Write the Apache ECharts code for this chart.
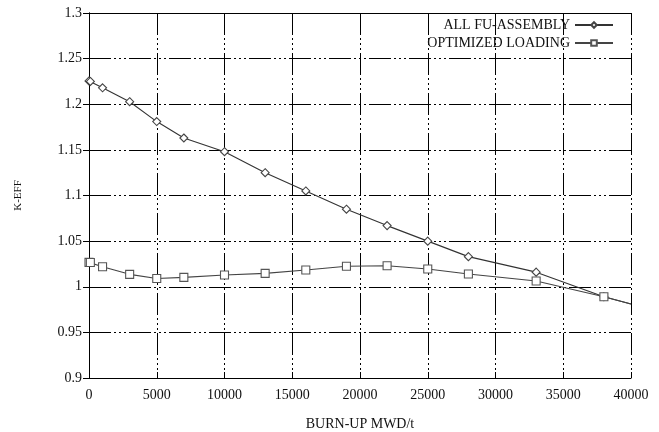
<!DOCTYPE html>
<html>
<head>
<meta charset="utf-8">
<script src="https://cdn.jsdelivr.net/npm/echarts@6/dist/echarts.min.js"></script>
<style>
  html, body { margin: 0; padding: 0; background: #fff; }
  #chart { width: 659px; height: 432px; }
</style>
</head>
<body>
<div id="chart"></div>
<script>
// Burn-up steps (MWD/t)
var burnup = [0, 100, 1000, 3000, 5000, 7000, 10000, 13000, 16000, 19000, 22000, 25000, 28000, 33000, 38000, 40000];
// k-eff, core loaded entirely with fresh FU assemblies
var keffAllFu = [1.2255, 1.225, 1.218, 1.2028, 1.181, 1.163, 1.148, 1.125, 1.105, 1.085, 1.067, 1.050, 1.033, 1.016, 0.989, 0.981];
// k-eff, optimized loading pattern
var keffOptimized = [1.0267, 1.0265, 1.022, 1.0136, 1.009, 1.0103, 1.0129, 1.0147, 1.0184, 1.0225, 1.023, 1.0195, 1.014, 1.0063, 0.989, 0.981];
// Axis ranges
var xRange = [0, 40000, 5000];
var yRange = [0.9, 1.3, 0.05];
var seriesNames = ['ALL FU-ASSEMBLY', 'OPTIMIZED LOADING'];

var FONT = 'Liberation Serif';
var gridDash = [22, 3, 2, 3, 2, 3, 2, 3];

function pairs(xs, ys) {
  return xs.map(function (x, i) {
    var p = { value: [x, ys[i]] };
    if (x === xRange[1]) p.symbol = 'none';
    return p;
  });
}

function yFmt(v) {
  return String(parseFloat(v.toFixed(2)));
}
function xFmt(v) {
  return String(Math.round(v));
}

var chart = echarts.init(document.getElementById('chart'), null, { renderer: 'canvas' });

var axisLine = { show: true, lineStyle: { color: '#000', width: 1 } };
var tick = { show: true, inside: true, length: 6, lineStyle: { color: '#000' } };

chart.setOption({
  backgroundColor: '#fff',
  animation: false,
  grid: { left: 89, right: 28, top: 13, bottom: 54, show: false, containLabel: false, outerBoundsMode: 'none' },
  legend: {
    orient: 'vertical',
    right: 40,
    top: 13,
    align: 'right',
    itemWidth: 38,
    itemHeight: 7,
    itemGap: 4,
    textStyle: { fontFamily: FONT, fontSize: 14, color: '#111' },
    data: seriesNames
  },
  xAxis: [{
    type: 'value',
    min: xRange[0], max: xRange[1], interval: xRange[2],
    position: 'bottom',
    axisLine: axisLine,
    axisTick: tick,
    axisLabel: { fontFamily: FONT, fontSize: 14, color: '#111', margin: 10, formatter: xFmt },
    splitLine: { show: true, lineStyle: { color: '#000', width: 1, type: gridDash } },
    name: 'BURN-UP MWD/t',
    nameLocation: 'middle',
    nameGap: 39,
    nameTextStyle: { fontFamily: FONT, fontSize: 14, color: '#111' }
  }, {
    type: 'value',
    min: xRange[0], max: xRange[1], interval: xRange[2],
    position: 'top',
    axisLine: axisLine,
    axisTick: tick,
    axisLabel: { show: false },
    splitLine: { show: false }
  }],
  yAxis: [{
    type: 'value',
    min: yRange[0], max: yRange[1], interval: yRange[2],
    position: 'left',
    axisLine: axisLine,
    axisTick: tick,
    axisLabel: { fontFamily: FONT, fontSize: 14, color: '#111', margin: 7, formatter: yFmt },
    splitLine: { show: true, lineStyle: { color: '#000', width: 1, type: gridDash } },
    name: 'K-EFF',
    nameLocation: 'middle',
    nameRotate: 90,
    nameGap: 65,
    nameTextStyle: { fontFamily: FONT, fontSize: 11, color: '#111' }
  }, {
    type: 'value',
    min: yRange[0], max: yRange[1], interval: yRange[2],
    position: 'right',
    axisLine: axisLine,
    axisTick: tick,
    axisLabel: { show: false },
    splitLine: { show: false }
  }],
  series: [{
    name: seriesNames[0],
    type: 'line',
    data: pairs(burnup, keffAllFu),
    symbol: 'diamond',
    symbolSize: 8,
    showAllSymbol: true,
    lineStyle: { color: '#333', width: 1.1 },
    itemStyle: { color: '#fff', borderColor: '#444', borderWidth: 1.1 },
    color: '#333',
    z: 3
  }, {
    name: seriesNames[1],
    type: 'line',
    data: pairs(burnup, keffOptimized),
    symbol: 'rect',
    symbolSize: 8,
    showAllSymbol: true,
    lineStyle: { color: '#444', width: 1.1 },
    itemStyle: { color: '#fff', borderColor: '#555', borderWidth: 1.1 },
    color: '#444',
    z: 3
  }]
});
</script>
</body>
</html>
